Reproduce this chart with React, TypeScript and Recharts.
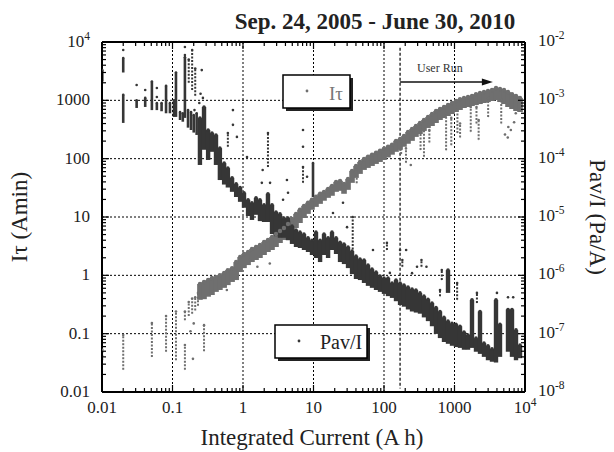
import React from 'react';
import { ScatterChart, Scatter, XAxis, YAxis, ErrorBar, ReferenceLine } from 'recharts';

const FONT = '"Liberation Serif", "Times New Roman", Times, serif';
const GRAY = '#6f6f6f';
const DARK = '#363636';

// ---- axis ticks / labels ----
const xMajorTicks = [0.01, 0.1, 1, 10, 100, 1000, 10000];
const xTickLabels = ['0.01', '0.1', '1', '10', '100', '1000', '10^4'];
const itauMajorTicks = [0.01, 0.1, 1, 10, 100, 1000, 10000];
const itauTickLabels = ['0.01', '0.1', '1', '10', '100', '1000', '10^4'];
const pavMajorTicks = [1e-8, 1e-7, 1e-6, 1e-5, 1e-4, 1e-3, 1e-2];
const pavTickLabels = ['10^-8', '10^-7', '10^-6', '10^-5', '10^-4', '10^-3', '10^-2'];
const minorMultipliers = [2, 3, 4, 5, 6, 7, 8, 9];
const gridXValues = [0.1, 1, 10, 100, 1000];
const gridYValues = [0.1, 1, 10, 100, 1000];

// ---- annotation values ----
const userRunStart = 169;
const userRunTop = 8000;
const userRunBottom = 0.0115;
const userRunArrowEnd = 3500;
const userRunArrowLevel = 2060;

// ---- I tau (Amin): [integrated current, low, high] ----
const itauBand: number[][] = [
  [0.245, 0.38, 0.71], [0.28, 0.39, 0.77], [0.32, 0.43, 0.83], [0.363, 0.46, 0.9],
  [0.414, 0.52, 0.93], [0.47, 0.56, 1.01], [0.54, 0.61, 1.1], [0.61, 0.68, 1.23],
  [0.7, 0.77, 1.33], [0.8, 0.83, 1.69], [0.91, 1.14, 2.06], [1.033, 1.33, 2.32],
  [1.18, 1.5, 2.51], [1.34, 1.69, 2.83], [1.53, 1.83, 3.06], [1.74, 1.98, 3.31],
  [1.99, 2.23, 3.73], [2.26, 2.51, 4.04], [2.58, 2.72, 4.54], [2.94, 3.06, 5.11],
  [3.35, 3.58, 5.76], [3.81, 4.04, 6.48], [4.35, 4.72, 7.6], [4.96, 5.53, 9.24],
  [5.65, 6.48, 11.3], [6.43, 7.89, 13.3], [7.33, 9.61, 15.5], [8.36, 11.3, 17.5],
  [9.52, 13.3, 19.7], [10.85, 14.9, 22.2], [12.4, 16.8, 25], [14.1, 19, 27],
  [16.1, 21.3, 30.4], [18.3, 23.1, 34.2], [20.9, 27, 40], [23.8, 28.1, 41.6],
  [27.1, 25, 37], [30.9, 29.2, 45], [35.2, 38.5, 61.7], [40.1, 46.8, 75],
  [45.7, 54.8, 87.8], [52.1, 64.1, 98.8], [59.3, 69.4, 108], [67.6, 75, 117],
  [77.1, 81.2, 126], [87.8, 87.8, 137], [100, 95, 148], [114, 105, 160],
  [130, 117, 173], [148, 131, 202], [169, 142, 218], [192, 160, 245],
  [219, 180, 287], [250, 202, 323], [284, 236, 363], [324, 265, 409],
  [369, 299, 460], [421, 336, 517], [480, 363, 582], [547, 409, 656],
  [623, 460, 710], [710, 497, 768], [809, 539, 830], [922, 582, 899],
  [1050, 631, 973], [1197, 682, 1050], [1364, 738, 1100], [1554, 768, 1140],
  [1771, 798, 1190], [2018, 830, 1280], [2300, 864, 1340], [2620, 899, 1390],
  [2986, 935, 1450], [3403, 973, 1500], [3878, 1010, 1630], [4419, 935, 1560],
  [5036, 864, 1500], [5740, 768, 1390], [6540, 710, 1280], [7453, 656, 1190],
  [8494, 631, 1100],
];

const itauSparse: number[][] = [
  [0.0101, 0.035, 0.053], [0.02, 0.024, 0.095], [0.051, 0.04, 0.152], [0.081, 0.049, 0.2],
  [0.112, 0.035, 0.24], [0.15, 0.024, 0.064], [0.15, 0.17, 0.24], [0.17, 0.2, 0.35],
  [0.19, 0.22, 0.4], [0.21, 0.25, 0.42], [0.23, 0.3, 0.5], [0.28, 0.05, 0.14],
  [0.18, 0.11, 0.11], [0.195, 0.037, 0.037], [0.2, 0.15, 0.15], [0.59, 0.56, 0.56],
  [1.26, 1.83, 1.83], [1.6, 1.4, 1.4], [2.4, 1.6, 1.6], [0.85, 1.2, 1.2],
  [41, 38, 65], [175, 120, 200], [205, 85, 150], [240, 78, 78],
  [330, 141, 350], [369, 108, 300], [440, 190, 310], [760, 140, 600],
  [900, 170, 500], [1100, 276, 768], [1200, 230, 400], [1700, 290, 770],
  [2050, 400, 770], [2200, 210, 460], [3000, 520, 1100], [4600, 400, 1010],
  [5200, 260, 260], [5700, 230, 230], [5800, 350, 350], [6300, 310, 310],
  [7000, 420, 420], [7400, 600, 600],
];

// ---- Pav/I (Pa/A): [integrated current, low, high] ----
const pavEarly: number[][] = [
  [0.0101, 2.1e-3, 3.3e-3], [0.02, 3.0e-3, 5.3e-3], [0.02, 4.1e-4, 1.25e-3],
  [0.031, 7.4e-4, 1.0e-3], [0.041, 7.7e-4, 1.1e-3], [0.051, 6.8e-4, 2.1e-3],
  [0.06, 6.8e-4, 9.0e-4], [0.07, 6.5e-4, 9.0e-4], [0.081, 6.0e-4, 1.77e-3],
  [0.092, 6.0e-4, 9.0e-4], [0.105, 5.2e-4, 1.0e-3], [0.112, 5.2e-4, 3.0e-3],
  [0.128, 4.6e-4, 6.3e-4], [0.14, 4.3e-4, 6.0e-4], [0.15, 5.0e-4, 5.5e-3],
  [0.166, 3.4e-4, 6.8e-4], [0.183, 3.1e-4, 6.3e-4], [0.2, 2.8e-4, 5.6e-4],
  [0.22, 2.55e-4, 6.0e-4], [9.84, 2.2e-5, 8.4e-5],
];

const pavBand: number[][] = [
  [0.245, 7.8e-5, 4.97e-4], [0.28, 1.42e-4, 7.68e-4], [0.32, 9.5e-5, 3.1e-4],
  [0.363, 1.31e-4, 2.75e-4], [0.414, 7.8e-5, 2.54e-4], [0.47, 4.3e-5, 1.52e-4],
  [0.54, 3.6e-5, 8.4e-5], [0.61, 3.2e-5, 6.9e-5], [0.7, 2.7e-5, 4.7e-5],
  [0.8, 2.2e-5, 3.7e-5], [0.91, 1.82e-5, 3.2e-5], [1.033, 1.44e-5, 2.6e-5],
  [1.18, 1.04e-5, 1.97e-5], [1.34, 8.9e-6, 1.75e-5], [1.53, 1.09e-5, 2.13e-5],
  [1.74, 8.5e-6, 1.97e-5], [1.99, 8.2e-6, 1.62e-5], [2.26, 8.2e-6, 2.5e-5],
  [2.58, 5.1e-6, 1.62e-5], [2.94, 4.7e-6, 1.22e-5], [3.35, 4.4e-6, 1.13e-5],
  [3.81, 4.4e-6, 9.6e-6], [4.35, 4.0e-6, 9.6e-6], [4.96, 3.45e-6, 7.0e-6],
  [5.65, 3.06e-6, 6.0e-6], [6.43, 2.94e-6, 5.5e-6], [7.33, 2.72e-6, 5.1e-6],
  [8.36, 2.51e-6, 4.4e-6], [9.52, 2.23e-6, 4.0e-6],
  [10.85, 1.98e-6, 5.5e-6], [12.4, 1.69e-6, 4.0e-6], [14.1, 2.23e-6, 5.1e-6],
  [16.1, 1.98e-6, 4.4e-6], [18.3, 2.72e-6, 5.5e-6], [20.9, 2.32e-6, 4.4e-6],
  [23.8, 1.69e-6, 3.7e-6], [27.1, 1.56e-6, 3.45e-6], [30.9, 1.33e-6, 3.06e-6],
  [35.2, 1.05e-6, 2.6e-6], [40.1, 8.65e-7, 2.14e-6], [45.7, 8.3e-7, 1.9e-6],
  [52.1, 7.4e-7, 1.83e-6], [59.3, 6.6e-7, 1.5e-6], [67.6, 6.1e-7, 1.28e-6],
  [77.1, 5.6e-7, 1.14e-6], [87.8, 5.2e-7, 9.7e-7], [100, 4.8e-7, 9.0e-7],
  [114, 4.4e-7, 9.0e-7], [130, 4.1e-7, 7.4e-7], [148, 3.6e-7, 8.3e-7],
  [169, 3.1e-7, 7.4e-7], [192, 2.9e-7, 6.8e-7], [219, 2.6e-7, 6.3e-7],
  [250, 2.4e-7, 5.8e-7], [284, 2.3e-7, 5.6e-7], [324, 2.2e-7, 5.0e-7],
  [369, 1.9e-7, 4.4e-7], [421, 1.64e-7, 3.9e-7], [480, 1.34e-7, 3.35e-7],
  [547, 9.9e-8, 2.8e-7], [623, 8.4e-8, 2.4e-7], [710, 7.2e-8, 1.9e-7],
  [809, 6.7e-8, 1.64e-7], [809, 5.0e-7, 1.23e-6], [922, 6.2e-8, 1.5e-7],
  [1050, 5.9e-8, 1.45e-7], [1197, 5.7e-8, 1.34e-7], [1364, 5.3e-8, 1.07e-7],
  [1554, 5.3e-8, 9.5e-8], [1771, 5.7e-8, 3.8e-7], [2018, 4.9e-8, 8.4e-8],
  [2300, 4.5e-8, 2.4e-7], [2620, 4.0e-8, 6.9e-8], [2986, 3.5e-8, 6.2e-8],
  [3403, 3.3e-8, 5.5e-8], [3878, 3.2e-8, 3.8e-7], [4419, 4.0e-8, 1.45e-7],
  [5740, 4.9e-8, 2.6e-7], [6540, 4.0e-8, 2.6e-7], [7453, 3.5e-8, 1.16e-7],
  [8494, 3.8e-8, 6.4e-8],
];

const pavSparse: number[][] = [
  [0.02, 7.3e-3, 7.3e-3], [0.031, 1.83e-3, 1.83e-3], [0.041, 1.5e-3, 1.5e-3],
  [0.06, 1.63e-3, 1.63e-3], [0.06, 1.14e-3, 1.14e-3], [0.15, 8.2e-3, 8.2e-3],
  [0.15, 6.0e-3, 6.0e-3], [0.17, 2.0e-3, 5.0e-3], [0.19, 1.5e-3, 7.3e-3],
  [0.21, 1.2e-3, 3.5e-3], [0.26, 3.3e-3, 3.3e-3], [0.25, 1.3e-3, 1.3e-3],
  [0.27, 1.1e-3, 1.1e-3], [0.24, 9e-4, 9e-4], [0.205, 6.8e-4, 6.8e-4],
  [0.72, 6.8e-4, 6.8e-4], [0.72, 3.8e-4, 3.8e-4], [0.82, 2.36e-4, 2.36e-4],
  [0.61, 1.6e-4, 2.75e-4], [2.26, 7.2e-5, 2.75e-4], [7.1, 3.1e-4, 3.1e-4],
  [7.1, 1.6e-4, 1.6e-4], [1.14, 1.07e-4, 1.07e-4], [1.9, 6.4e-5, 6.4e-5],
  [1.85, 3.85e-5, 3.85e-5], [2.42, 3.85e-5, 3.85e-5], [4.2, 4.3e-5, 4.3e-5],
  [4.35, 2.6e-5, 2.6e-5], [3.7, 1.97e-5, 1.97e-5], [2.2, 1.3e-5, 1.75e-5],
  [7.1, 3.85e-5, 7.2e-5], [8.1, 4.9e-5, 4.9e-5], [18.9, 1.17e-5, 1.17e-5],
  [26.2, 1.75e-5, 1.75e-5], [29.9, 6.7e-6, 6.7e-6], [36, 1.83e-6, 1.0e-5],
  [69.8, 2.72e-6, 2.72e-6], [110, 2.72e-6, 3.6e-6], [169, 2.72e-6, 2.72e-6],
  [206, 2.72e-6, 2.72e-6], [250, 1.09e-6, 1.09e-6], [121, 1.1e-6, 1.1e-6],
  [182, 1.4e-6, 1.83e-6], [294, 1.4e-6, 1.4e-6], [340, 1.4e-6, 1.83e-6],
  [400, 1.4e-6, 1.4e-6], [660, 8.3e-7, 1.23e-6], [623, 4.4e-7, 5.6e-7],
  [1090, 3.8e-7, 7.4e-7], [2080, 3.35e-7, 5e-7], [5740, 4.2e-7, 4.2e-7],
  [6800, 4.2e-7, 4.2e-7], [4000, 5.0e-7, 5.0e-7],
];

function withMinors(majors: number[]) {
  const out: number[] = [];
  majors.forEach((m, i) => {
    out.push(m);
    if (i < majors.length - 1) minorMultipliers.forEach((k) => out.push(m * k));
  });
  return out;
}

const toPoints = (rows: number[][]) =>
  rows.map(([x, lo, hi]) => ({ x, y: hi, e: [hi - lo, 0] }));

function makeTick(side: string, majors: number[], labels: string[] | null) {
  return function Tick(props: any) {
    const { x, y, payload } = props;
    const v = Number(payload && payload.value);
    const idx = majors.findIndex((m) => Math.abs(m - v) <= m * 1e-6);
    const major = idx >= 0;
    const len = major ? 7 : 4;
    let x2 = x;
    let y2 = y;
    if (side === 'bottom') y2 = y - len;
    if (side === 'top') y2 = y + len;
    if (side === 'left') x2 = x + len;
    if (side === 'right') x2 = x - len;
    let label: any = null;
    if (major && labels) {
      const [base, exp] = labels[idx].split('^');
      let tx = x;
      let ty = y;
      let anchor = 'middle';
      if (side === 'bottom') ty = y + 21;
      if (side === 'left') { tx = x - 12; ty = y + 5; anchor = 'end'; }
      if (side === 'right') { tx = x + 13; ty = y + 4; anchor = 'start'; }
      label = (
        <text x={tx} y={ty} textAnchor={anchor} fontFamily={FONT} fontSize={17} fill="#222">
          <tspan>{base}</tspan>
          {exp !== undefined ? <tspan dy={-7} fontSize={11.5}>{exp}</tspan> : null}
        </text>
      );
    }
    return (
      <g>
        <line x1={x} y1={y} x2={x2} y2={y2} stroke="#000" strokeWidth={1.2} />
        {label}
      </g>
    );
  };
}

const BottomTick = makeTick('bottom', xMajorTicks, xTickLabels);
const TopTick = makeTick('top', xMajorTicks, null);
const LeftTick = makeTick('left', itauMajorTicks, itauTickLabels);
const RightTick = makeTick('right', pavMajorTicks, pavTickLabels);

const dotShape = (r: number, color: string) => (p: any) =>
  p.cx == null ? <g /> : <circle cx={p.cx} cy={p.cy} r={r} fill={color} />;

const ArrowShape = (p: any) => {
  const { x1, y1, x2, y2 } = p;
  return (
    <g>
      <line x1={x1} y1={y1} x2={x2 - 8} y2={y2} stroke="#111" strokeWidth={1.3} />
      <polygon points={`${x2},${y2} ${x2 - 11},${y2 - 3.5} ${x2 - 11},${y2 + 3.5}`} fill="#111" />
    </g>
  );
};

export default function App() {
  const allX = withMinors(xMajorTicks);
  const allLeft = withMinors(itauMajorTicks);
  const allRight = withMinors(pavMajorTicks);
  const axisLine = { stroke: '#000', strokeWidth: 2 };
  return (
    <div style={{ position: 'relative', width: 606, height: 444 }}>
      <ScatterChart width={606} height={444} margin={{ top: 24, right: 29, bottom: 30, left: 34 }}>
        <XAxis xAxisId="bottom" orientation="bottom" type="number" dataKey="x" scale="log"
          domain={[0.01, 10000]} allowDataOverflow ticks={allX} interval={0} tickSize={0}
          tickMargin={0} tickLine={false} axisLine={axisLine} tick={BottomTick} height={30} />
        <XAxis xAxisId="top" orientation="top" type="number" dataKey="x" scale="log"
          domain={[0.01, 10000]} allowDataOverflow ticks={allX} interval={0} tickSize={0}
          tickMargin={0} tickLine={false} axisLine={axisLine} tick={TopTick} height={10} />
        <YAxis yAxisId="left" orientation="left" type="number" dataKey="y" scale="log"
          domain={[0.01, 10000]} allowDataOverflow ticks={allLeft} interval={0} tickSize={0}
          tickMargin={0} tickLine={false} axisLine={axisLine} tick={LeftTick} width={60} />
        <YAxis yAxisId="right" orientation="right" type="number" dataKey="y" scale="log"
          domain={[1e-8, 1e-2]} allowDataOverflow ticks={allRight} interval={0} tickSize={0}
          tickMargin={0} tickLine={false} axisLine={axisLine} tick={RightTick} width={60} />

        {gridXValues.map((v) => (
          <ReferenceLine key={'gx' + v} xAxisId="bottom" yAxisId="left" x={v}
            stroke="#000" strokeWidth={1} strokeDasharray="2 2" />
        ))}
        {gridYValues.map((v) => (
          <ReferenceLine key={'gy' + v} xAxisId="bottom" yAxisId="left" y={v}
            stroke="#000" strokeWidth={1} strokeDasharray="2 2" />
        ))}
        <ReferenceLine xAxisId="bottom" yAxisId="left"
          segment={[{ x: userRunStart, y: userRunTop }, { x: userRunStart, y: userRunBottom }]}
          stroke="#000" strokeWidth={1.2} strokeDasharray="3 2" />
        <ReferenceLine xAxisId="bottom" yAxisId="left"
          segment={[{ x: userRunStart, y: userRunArrowLevel }, { x: userRunArrowEnd, y: userRunArrowLevel }]}
          shape={ArrowShape} />

        <Scatter name="Iτ sparse" xAxisId="bottom" yAxisId="left" data={toPoints(itauSparse)}
          isAnimationActive={false} shape={dotShape(1.3, GRAY)} fill={GRAY}>
          <ErrorBar dataKey="e" direction="y" width={0} stroke={GRAY} strokeWidth={2}
            strokeDasharray="2 1.5" isAnimationActive={false} />
        </Scatter>
        <Scatter name="Iτ" xAxisId="bottom" yAxisId="left" data={toPoints(itauBand)}
          isAnimationActive={false} shape={dotShape(2.2, GRAY)} fill={GRAY}>
          <ErrorBar dataKey="e" direction="y" width={0} stroke={GRAY} strokeWidth={5.6}
            isAnimationActive={false} />
        </Scatter>
        <Scatter name="Pav/I sparse" xAxisId="bottom" yAxisId="right" data={toPoints(pavSparse)}
          isAnimationActive={false} shape={dotShape(1.3, DARK)} fill={DARK}>
          <ErrorBar dataKey="e" direction="y" width={0} stroke={DARK} strokeWidth={2}
            strokeDasharray="2 1.5" isAnimationActive={false} />
        </Scatter>
        <Scatter name="Pav/I early" xAxisId="bottom" yAxisId="right" data={toPoints(pavEarly)}
          isAnimationActive={false} shape={dotShape(1.3, DARK)} fill={DARK}>
          <ErrorBar dataKey="e" direction="y" width={0} stroke={DARK} strokeWidth={2.6}
            isAnimationActive={false} />
        </Scatter>
        <Scatter name="Pav/I" xAxisId="bottom" yAxisId="right" data={toPoints(pavBand)}
          isAnimationActive={false} shape={dotShape(1.8, DARK)} fill={DARK}>
          <ErrorBar dataKey="e" direction="y" width={0} stroke={DARK} strokeWidth={4.4}
            isAnimationActive={false} />
        </Scatter>
      </ScatterChart>

      <svg width={606} height={444} style={{ position: 'absolute', left: 0, top: 0, pointerEvents: 'none' }}>
        <text x={367} y={21} textAnchor="middle" fontFamily={FONT} fontWeight="bold" fontSize={23} fill="#222">
          Sep. 24, 2005 - June 30, 2010
        </text>
        <text transform="translate(19,209) rotate(-90)" textAnchor="middle" fontFamily={FONT} fontSize={23} fill="#222">
          Iτ (Amin)
        </text>
        <text transform="translate(582,209) rotate(90)" textAnchor="middle" fontFamily={FONT} fontSize={23} fill="#222">
          Pav/I (Pa/A)
        </text>
        <text x={304} y={437} textAnchor="middle" fontFamily={FONT} fontSize={23} fill="#222">
          Integrated Current (A h)
        </text>
        <text x={409} y={64} fontFamily={FONT} fontSize={12} fill="#333">User Run</text>

        <rect x={278} y={70} width={67} height={33} fill="#222" />
        <rect x={275} y={67} width={67} height={33} fill="#fff" stroke="#000" strokeWidth={1.5} />
        <circle cx={299} cy={83} r={1.4} fill={GRAY} />
        <text x={321} y={92} fontFamily={FONT} fontSize={19} fill="#777">Iτ</text>

        <rect x={270} y={320} width={92} height={33} fill="#222" />
        <rect x={267} y={317} width={92} height={33} fill="#fff" stroke="#000" strokeWidth={1.5} />
        <circle cx={291} cy={333} r={1.4} fill={DARK} />
        <text x={312} y={341} fontFamily={FONT} fontSize={20} fill="#222">Pav/I</text>
      </svg>
    </div>
  );
}
